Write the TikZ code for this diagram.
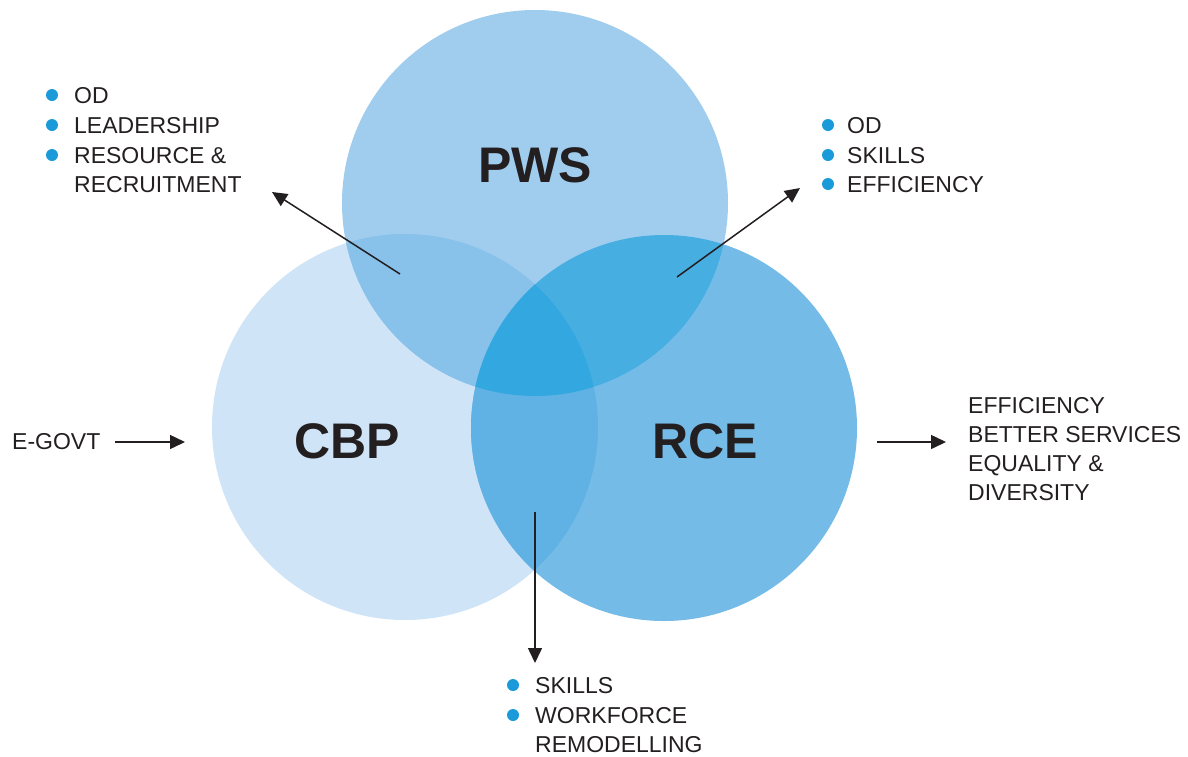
\documentclass[tikz,border=0pt]{standalone}
\usepackage{fontspec}
\setmainfont{Liberation Sans}
\usetikzlibrary{arrows.meta}
\definecolor{cpws}{HTML}{A0CDEE}
\definecolor{ccbp}{HTML}{CFE4F7}
\definecolor{crce}{HTML}{74BBE8}
\definecolor{cpc}{HTML}{88C1EA}
\definecolor{cpr}{HTML}{47AEE2}
\definecolor{ccr}{HTML}{61B2E4}
\definecolor{call}{HTML}{33A8E0}
\definecolor{ink}{HTML}{231F20}
\definecolor{dotblue}{HTML}{1A9AD8}
\tikzset{
  title/.style={font=\fontsize{50}{50}\selectfont\bfseries, text=ink, anchor=base, inner sep=0pt},
  item/.style={font=\fontsize{23}{23}\selectfont, text=ink, anchor=base west, inner sep=0pt},
  dot/.style={circle, fill=dotblue, minimum size=12pt, inner sep=0pt},
  link/.style={draw=ink, line width=1.5pt, -{Triangle[length=15pt,width=14pt]}}
}
\begin{document}
\begin{tikzpicture}[x=1pt,y=-1pt]
\useasboundingbox (0,0) rectangle (1188,756);
% circle centres
\coordinate (cP) at (535,203);
\coordinate (cC) at (405,427);
\coordinate (cR) at (664,428);
\def\rad{193}
% base discs
\fill[ccbp] (cC) circle (\rad);
\fill[crce] (cR) circle (\rad);
\fill[cpws] (cP) circle (\rad);
% pairwise overlaps
\begin{scope}
  \clip (cP) circle (\rad);
  \fill[cpc] (cC) circle (\rad);
  \fill[cpr] (cR) circle (\rad);
\end{scope}
\begin{scope}
  \clip (cC) circle (\rad);
  \fill[ccr] (cR) circle (\rad);
\end{scope}
% triple overlap
\begin{scope}
  \clip (cP) circle (\rad);
  \clip (cC) circle (\rad);
  \fill[call] (cR) circle (\rad);
\end{scope}
% circle titles
\node[title] (pws) at (535,182) {PWS};
\node[title] (cbp) at (347,458) {CBP};
\node[title] (rce) at (705,458) {RCE};

% upper-left list
\node[dot] (d1) at (52,95) {};
\node[item] (l1) at (74,103) {OD};
\node[dot] (d2) at (52,125) {};
\node[item] (l2) at (74,133) {LEADERSHIP};
\node[dot] (d3) at (52,155) {};
\node[item] (l3) at (74,163) {RESOURCE \&};
\node[item] (l4) at (74,192) {RECRUITMENT};

% upper-right list
\node[dot] (r1) at (828,125) {};
\node[item] (rt1) at (847,133) {OD};
\node[dot] (r2) at (828,155) {};
\node[item] (rt2) at (847,163) {SKILLS};
\node[dot] (r3) at (828,184) {};
\node[item] (rt3) at (847,192) {EFFICIENCY};

% right list
\node[item] (o1) at (968,413) {EFFICIENCY};
\node[item] (o2) at (968,442) {BETTER SERVICES};
\node[item] (o3) at (968,471) {EQUALITY \&};
\node[item] (o4) at (968,500) {DIVERSITY};

% bottom list
\node[dot] (b1) at (513,685) {};
\node[item] (bt1) at (535,693) {SKILLS};
\node[dot] (b2) at (513,715) {};
\node[item] (bt2) at (535,723) {WORKFORCE};
\node[item] (bt3) at (535,752) {REMODELLING};

% left input
\node[item] (egov) at (12,449) {E-GOVT};

% arrow end points
\coordinate (a1s) at (400,274);
\coordinate (a1e) at (272,192);
\coordinate (a2s) at (677,277);
\coordinate (a2e) at (800,188);
\coordinate (a3s) at (877,442);
\coordinate (a3e) at (946,442);
\coordinate (a4s) at (535,512);
\coordinate (a4e) at (535,663);
\coordinate (a5s) at (115,442);
\coordinate (a5e) at (185,442);

\draw[link] (a1s) -- (a1e);
\draw[link] (a2s) -- (a2e);
\draw[link] (a3s) -- (a3e);
\draw[link] (a4s) -- (a4e);
\draw[link] (a5s) -- (a5e);
\end{tikzpicture}
\end{document}
